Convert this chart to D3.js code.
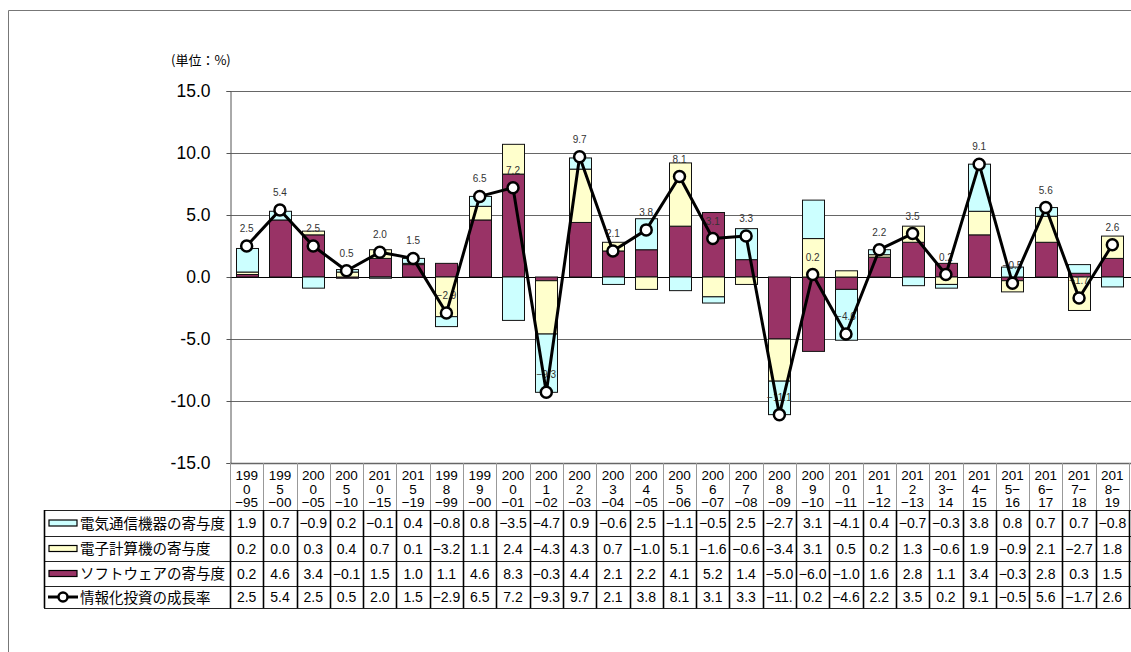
<!DOCTYPE html>
<html>
<head>
<meta charset="utf-8">
<script src="https://cdn.jsdelivr.net/npm/d3@7"></script>
<style>
  body { margin: 0; background: #fff; }
  text { font-family: "Liberation Sans", Arial, sans-serif; }
  .jp { font-family: "Noto Sans CJK JP", sans-serif; }
</style>
</head>
<body>
<svg class="chart"></svg>
<script>
// Category tick labels (wrapped as in the original)
var categories = ["199\n0\n\u221295", "199\n5\n\u221200", "200\n0\n\u221205", "200\n5\n\u221210", "201\n0\n\u221215", "201\n5\n\u221219",
  "199\n8\n\u221299", "199\n9\n\u221200", "200\n0\n\u221201", "200\n1\n\u221202", "200\n2\n\u221203", "200\n3\n\u221204",
  "200\n4\n\u221205", "200\n5\n\u221206", "200\n6\n\u221207", "200\n7\n\u221208", "200\n8\n\u221209", "200\n9\n\u221210",
  "201\n0\n\u221211", "201\n1\n\u221212", "201\n2\n\u221213", "201\n3\u2212\n14", "201\n4\u2212\n15", "201\n5\u2212\n16",
  "201\n6\u2212\n17", "201\n7\u2212\n18", "201\n8\u2212\n19"];

// Series values (%)
var telecom  = [1.9, 0.7, -0.9, 0.2, -0.1, 0.4, -0.8, 0.8, -3.5, -4.7, 0.9, -0.6, 2.5, -1.1, -0.5, 2.5, -2.7, 3.1, -4.1, 0.4, -0.7, -0.3, 3.8, 0.8, 0.7, 0.7, -0.8];
var computer = [0.2, 0.0, 0.3, 0.4, 0.7, 0.1, -3.2, 1.1, 2.4, -4.3, 4.3, 0.7, -1.0, 5.1, -1.6, -0.6, -3.4, 3.1, 0.5, 0.2, 1.3, -0.6, 1.9, -0.9, 2.1, -2.7, 1.8];
var software = [0.2, 4.6, 3.4, -0.1, 1.5, 1.0, 1.1, 4.6, 8.3, -0.3, 4.4, 2.1, 2.2, 4.1, 5.2, 1.4, -5.0, -6.0, -1.0, 1.6, 2.8, 1.1, 3.4, -0.3, 2.8, 0.3, 1.5];
var growth   = [2.5, 5.4, 2.5, 0.5, 2.0, 1.5, -2.9, 6.5, 7.2, -9.3, 9.7, 2.1, 3.8, 8.1, 3.1, 3.3, -11.1, 0.2, -4.6, 2.2, 3.5, 0.2, 9.1, -0.5, 5.6, -1.7, 2.6];

var seriesNames = ["電気通信機器の寄与度", "電子計算機の寄与度", "ソフトウェアの寄与度", "情報化投資の成長率"];
var yTicks = [-15, -10, -5, 0, 5, 10, 15];

// Define dimensions
var W = 1131, H = 652,
    plot = {left: 230, right: 1129, top: 91, bottom: 463},
    rowLines = [510, 536, 561, 586, 608],
    tableLeft = 44;

var colors = {telecom: "#ccffff", computer: "#ffffcc", software: "#993366"};

var svg = d3.select(".chart")
    .attr("width", W)
    .attr("height", H);

// Outer frame
svg.append("path")
    .attr("d", "M8.5," + H + "V10.5H" + W)
    .attr("fill", "none")
    .attr("stroke", "#777")
    .attr("stroke-width", 1);

var x = d3.scaleBand()
    .domain(d3.range(categories.length))
    .range([plot.left, plot.right])
    .paddingInner(0.34)
    .paddingOuter(0.17);

var xCol = d3.scaleBand()
    .domain(d3.range(categories.length))
    .range([plot.left, plot.right]);

var y = d3.scaleLinear()
    .domain([-15, 15])
    .range([plot.bottom, plot.top]);

// Gridlines
svg.append("g").selectAll("line")
    .data(yTicks)
    .enter().append("line")
    .attr("x1", plot.left).attr("x2", W)
    .attr("y1", function(d) { return Math.round(y(d)) + 0.5; })
    .attr("y2", function(d) { return Math.round(y(d)) + 0.5; })
    .attr("stroke", function(d) { return d === 0 ? "#000" : "#666"; })
    .attr("stroke-width", function(d) { return d === -15 ? 1.5 : 1; });

// Y axis
var yAxis = d3.axisLeft(y)
    .tickValues(yTicks)
    .tickSize(4)
    .tickPadding(16)
    .tickFormat(function(d) { return d.toFixed(1); });

var gy = svg.append("g")
    .attr("transform", "translate(" + (plot.left + 0.5) + ",0)")
    .call(yAxis);
gy.select(".domain").attr("stroke", "#555");
gy.selectAll(".tick line").attr("stroke", "#555");
gy.selectAll(".tick text")
    .attr("font-size", 17.5)
    .attr("font-family", "Liberation Sans, Arial, sans-serif")
    .attr("fill", "#000");

svg.append("text")
    .attr("class", "jp")
    .attr("x", 171)
    .attr("y", 65)
    .attr("font-size", 13)
    .text("(単位\uff1a%)");

// Stacked bars (positive and negative stacked separately)
var rows = categories.map(function(c, i) {
  return {software: software[i], computer: computer[i], telecom: telecom[i]};
});
var stack = d3.stack()
    .keys(["software", "computer", "telecom"])
    .offset(d3.stackOffsetDiverging);
var layers = stack(rows);

svg.append("g").selectAll("g")
    .data(layers)
    .enter().append("g")
    .attr("fill", function(d) { return colors[d.key]; })
    .selectAll("rect")
    .data(function(d) { return d; })
    .enter().append("rect")
    .attr("x", function(d, i) { return Math.round(x(i)) + 0.5; })
    .attr("width", Math.round(x.bandwidth()))
    .attr("y", function(d) { return y(Math.max(d[0], d[1])); })
    .attr("height", function(d) { return Math.abs(y(d[0]) - y(d[1])); })
    .attr("stroke", "#111")
    .attr("stroke-width", 1);

// Data labels for growth rate
svg.append("g").selectAll("text")
    .data(growth)
    .enter().append("text")
    .attr("x", function(d, i) { return x(i) + x.bandwidth() / 2; })
    .attr("y", function(d) { return y(d) - 14; })
    .attr("text-anchor", "middle")
    .attr("font-size", 10)
    .attr("fill", "#333")
    .text(function(d) { return (d < 0 ? "\u2212" : "") + Math.abs(d).toFixed(1); });

// Growth line
var line = d3.line()
    .x(function(d, i) { return x(i) + x.bandwidth() / 2; })
    .y(function(d) { return y(d); });

svg.append("path")
    .datum(growth)
    .attr("d", line)
    .attr("fill", "none")
    .attr("stroke", "#000")
    .attr("stroke-width", 3)
    .attr("stroke-linejoin", "round");

svg.append("g").selectAll("circle")
    .data(growth)
    .enter().append("circle")
    .attr("cx", function(d, i) { return x(i) + x.bandwidth() / 2; })
    .attr("cy", function(d) { return y(d); })
    .attr("r", 5.5)
    .attr("fill", "#fff")
    .attr("stroke", "#000")
    .attr("stroke-width", 2.5);

// Data table: header (category labels)
var header = svg.append("g");
header.selectAll("line")
    .data(d3.range(categories.length + 1))
    .enter().append("line")
    .attr("x1", function(i) { return Math.round(plot.left + i * xCol.step()) + 0.5; })
    .attr("x2", function(i) { return Math.round(plot.left + i * xCol.step()) + 0.5; })
    .attr("y1", plot.bottom)
    .attr("y2", rowLines[0])
    .attr("stroke", "#999");

header.selectAll("text")
    .data(categories)
    .enter().append("text")
    .attr("x", function(d, i) { return xCol(i) + xCol.bandwidth() / 2; })
    .attr("y", 480)
    .attr("text-anchor", "middle")
    .attr("font-size", 13.5)
    .each(function(d) {
      var t = d3.select(this);
      d.split("\n").forEach(function(s, k) {
        t.append("tspan")
            .attr("x", t.attr("x"))
            .attr("dy", k === 0 ? 0 : 13.5)
            .text(s);
      });
    });

// Data table: body
var tableData = [telecom, computer, software, growth];
var fmt = function(d) {
  var s = (d < 0 ? "\u2212" : "") + Math.abs(d).toFixed(1);
  return s.length > 4 ? s.slice(0, 4) : s;
};

var body = svg.append("g");

body.selectAll("line.h")
    .data(rowLines)
    .enter().append("line")
    .attr("class", "h")
    .attr("x1", tableLeft).attr("x2", W)
    .attr("y1", function(d) { return d + 0.5; })
    .attr("y2", function(d) { return d + 0.5; })
    .attr("stroke", "#222")
    .attr("stroke-width", 1.2);

body.selectAll("line.v")
    .data([tableLeft].concat(d3.range(categories.length + 1).map(function(i) { return Math.round(plot.left + i * xCol.step()); })))
    .enter().append("line")
    .attr("class", "v")
    .attr("x1", function(d) { return d + 0.5; })
    .attr("x2", function(d) { return d + 0.5; })
    .attr("y1", rowLines[0])
    .attr("y2", rowLines[rowLines.length - 1])
    .attr("stroke", "#000")
    .attr("stroke-width", 1.6);

tableData.forEach(function(vals, r) {
  var cy = (rowLines[r] + rowLines[r + 1]) / 2;
  body.append("g").selectAll("text")
      .data(vals)
      .enter().append("text")
      .attr("x", function(d, i) { return xCol(i) + xCol.bandwidth() / 2; })
      .attr("y", cy + 5)
      .attr("text-anchor", "middle")
      .attr("font-size", 14)
      .text(fmt);

  // legend key
  if (r < 3) {
    var key = ["telecom", "computer", "software"][r];
    body.append("rect")
        .attr("x", 49).attr("y", cy - 3)
        .attr("width", 28).attr("height", 6)
        .attr("fill", colors[key])
        .attr("stroke", "#000")
        .attr("stroke-width", 1.2);
  } else {
    body.append("line")
        .attr("x1", 48).attr("x2", 78)
        .attr("y1", cy).attr("y2", cy)
        .attr("stroke", "#000").attr("stroke-width", 3);
    body.append("circle")
        .attr("cx", 63).attr("cy", cy).attr("r", 4.5)
        .attr("fill", "#fff").attr("stroke", "#000").attr("stroke-width", 2.5);
  }
  body.append("text")
      .attr("class", "jp")
      .attr("x", 80)
      .attr("y", cy + 5.5)
      .attr("font-size", 14.5)
      .text(seriesNames[r]);
});
</script>
</body>
</html>
